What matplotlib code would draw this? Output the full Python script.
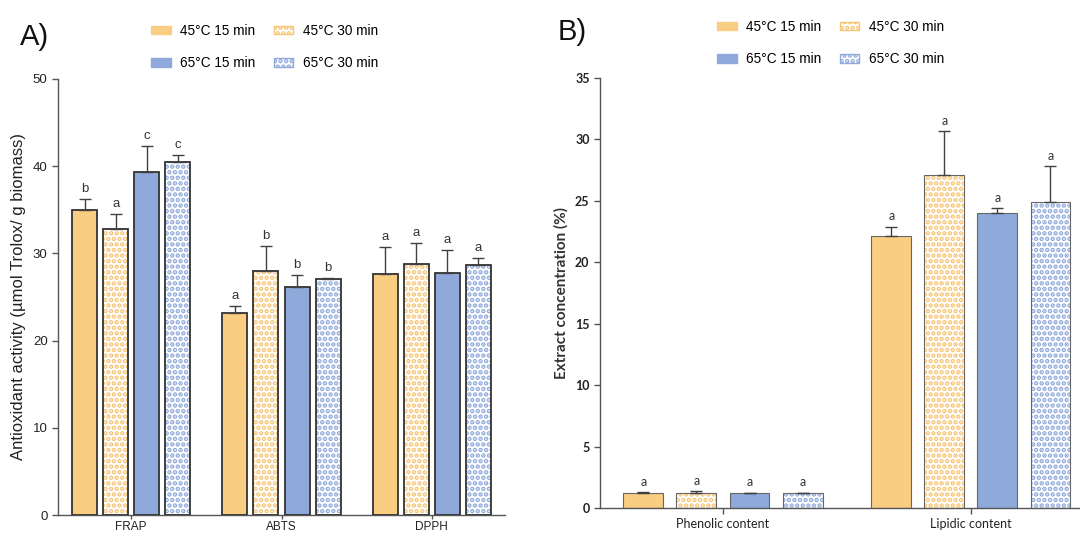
import matplotlib
matplotlib.use("Agg")
import matplotlib.pyplot as plt
from matplotlib.patches import Patch
import numpy as np

# Series / groups
series = ['45°C 15 min', '45°C 30 min', '65°C 15 min', '65°C 30 min']

groups_a = ['FRAP', 'ABTS', 'DPPH']
a_s1 = [35.0, 23.2, 27.6]
a_s2 = [32.8, 28.0, 28.8]
a_s3 = [39.3, 26.2, 27.8]
a_s4 = [40.5, 27.1, 28.7]
a_e1 = [1.2, 0.8, 3.1]
a_e2 = [1.7, 2.8, 2.4]
a_e3 = [3.0, 1.3, 2.6]
a_e4 = [0.8, 0.1, 0.8]
a_l1 = ['b', 'a', 'a']
a_l2 = ['a', 'b', 'a']
a_l3 = ['c', 'b', 'a']
a_l4 = ['c', 'b', 'a']

groups_b = ['Phenolic content', 'Lipidic content']
b_s1 = [1.2, 22.1]
b_s2 = [1.25, 27.1]
b_s3 = [1.2, 24.0]
b_s4 = [1.2, 24.9]
b_e1 = [0.08, 0.8]
b_e2 = [0.15, 3.6]
b_e3 = [0.06, 0.4]
b_e4 = [0.06, 2.9]
b_l = ['a', 'a']

orange = '#F9CD82'
orange_dot = '#F7C576'
blue = '#8EA9DA'
blue_dot = '#90AADC'

# (face, hatch, hatch colour)
styles = [
    (orange, None, orange),
    ('white', '...', orange_dot),
    (blue, None, blue),
    ('white', '...', blue_dot),
]

plt.rcParams['hatch.linewidth'] = 2.3

fig = plt.figure(figsize=(10.8, 5.34), dpi=100)
axA = fig.add_axes([58 / 1080, 19 / 534, 447 / 1080, 436 / 534])
axB = fig.add_axes([600 / 1080, 26 / 534, 480 / 1080, 430 / 534])


def draw_panel(ax, vals, errs, lets, width, step, edge, elw, fontfam, fs_let):
    x = np.arange(len(vals[0]))
    for i in range(4):
        xs = x + (i - 1.5) * step
        face, hatch, hcol = styles[i]
        ax.bar(xs, vals[i], width, color=face, hatch=hatch, edgecolor=hcol,
               linewidth=0, zorder=2)
        ax.bar(xs, vals[i], width, fill=False, edgecolor=edge, linewidth=elw,
               zorder=3)
        ax.errorbar(xs, vals[i], yerr=[np.zeros(len(vals[i])), errs[i]],
                    fmt='none', ecolor='#404040', elinewidth=1.0,
                    capsize=4.5, capthick=1.0, zorder=4)
        for xx, v, e, t in zip(xs, vals[i], errs[i], lets[i]):
            ax.annotate(t, (xx, v + e), xytext=(0, 3), textcoords='offset points',
                        ha='center', va='bottom', fontsize=fs_let,
                        family=fontfam, color='#333333')
    for s in ['top', 'right']:
        ax.spines[s].set_visible(False)
    for s in ['left', 'bottom']:
        ax.spines[s].set_color('#555555')
        ax.spines[s].set_linewidth(1.0)
    ax.tick_params(colors='#555555', length=4, width=1.0)


draw_panel(axA, [a_s1, a_s2, a_s3, a_s4], [a_e1, a_e2, a_e3, a_e4],
           [a_l1, a_l2, a_l3, a_l4], 0.167, 0.207, '#333333', 1.3,
           'Liberation Sans', 9.5)
axA.set_xlim(-0.487, 2.487)
axA.set_ylim(0, 50)
axA.set_yticks([0, 10, 20, 30, 40, 50])
axA.set_xticks(range(3))
axA.tick_params(axis='x', length=3, pad=1)
axA.set_xticklabels(groups_a, family='Liberation Sans', fontsize=8.5, color='#222222')
for t in axA.get_yticklabels():
    t.set_family('Liberation Sans'); t.set_fontsize(9.5); t.set_color('#222222')
axA.set_ylabel('Antioxidant activity (µmol Trolox/ g biomass)',
               family='Liberation Sans', fontsize=12, color='#222222', labelpad=5)

draw_panel(axB, [b_s1, b_s2, b_s3, b_s4], [b_e1, b_e2, b_e3, b_e4],
           [b_l] * 4, 0.161, 0.214, '#666666', 0.8, 'Lato', 9)
axB.set_xlim(-0.496, 1.44)
axB.set_ylim(0, 35)
axB.set_yticks(range(0, 36, 5))
axB.set_xticks(range(2))
axB.set_xticklabels(groups_b, family='Lato', fontsize=9, color='#222222')
for t in axB.get_yticklabels():
    t.set_family('Lato'); t.set_fontsize(9); t.set_weight('bold'); t.set_color('#222222')
axB.set_ylabel('Extract concentration (%)', family='Lato', fontsize=11,
               weight='bold', color='#333333', labelpad=5)

# legends
handles = []
for i in range(4):
    face, hatch, hcol = styles[i]
    handles.append(Patch(facecolor=face, hatch=hatch, edgecolor=hcol, linewidth=1.0,
                         label=series[i]))
order = [handles[0], handles[2], handles[1], handles[3]]

for xa, ya in [(144 / 1080, 1 - 17 / 534), (710 / 1080, 1 - 13 / 534)]:
    fig.legend(handles=order, loc='upper left', bbox_to_anchor=(xa, ya), ncol=2,
               frameon=False, borderpad=0, handlelength=1.45, handleheight=0.6,
               handletextpad=0.7, columnspacing=1.35, labelspacing=1.35,
               prop={'family': 'Liberation Sans', 'size': 9.8})

fig.text(20 / 1080, 1 - 45 / 534, 'A)', fontsize=21, family='Liberation Sans',
         color='#111111')
fig.text(558 / 1080, 1 - 40 / 534, 'B)', fontsize=21, family='Liberation Sans',
         color='#111111')

fig.savefig('out.png', dpi=100)
